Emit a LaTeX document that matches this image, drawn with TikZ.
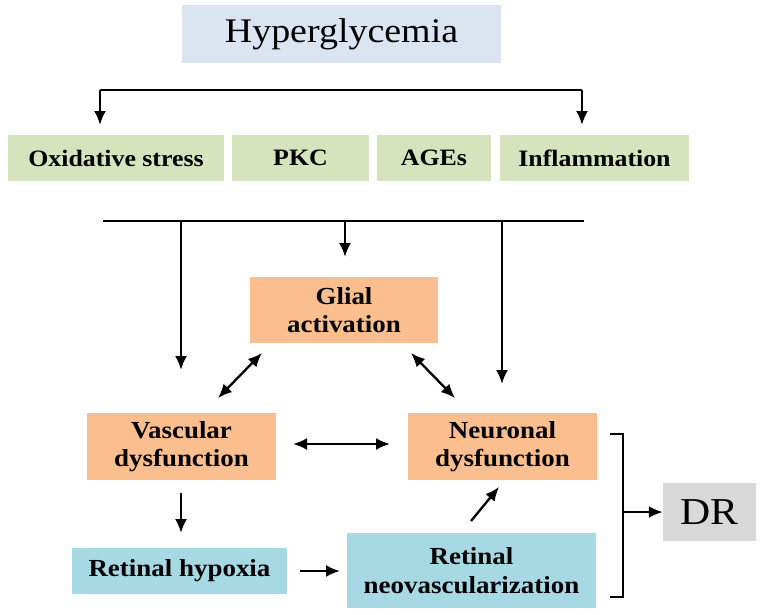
\documentclass[tikz,border=0pt]{standalone}
\usepackage{fontspec}
\setmainfont{Liberation Serif}[FakeStretch=1.1]
\usetikzlibrary{arrows.meta}
\definecolor{hypblue}{HTML}{DAE5F1}
\definecolor{lgreen}{HTML}{D6E3BD}
\definecolor{lorange}{HTML}{FBBF8F}
\definecolor{lcyan}{HTML}{A7D9E4}
\definecolor{lgray}{HTML}{D9D9D9}
\begin{document}
\begin{tikzpicture}[x=1pt,y=-1pt,
  box/.style={inner sep=0pt, align=center, font=\fontsize{23.5}{28}\selectfont\bfseries},
  lbl/.style={font=\fontsize{24.5}{28.5}\selectfont\bfseries},
  ln/.style={line width=2.3pt, line cap=butt},
  arr/.style={ln, -{Latex[length=14pt,width=12pt]}},
  darr/.style={ln, {Latex[length=14pt,width=12pt]}-{Latex[length=14pt,width=12pt]}}]
\useasboundingbox (0,0) rectangle (761,614);
\fill[white] (0,0) rectangle (761,614);
% nodes
\node[box, fill=hypblue, minimum width=319pt, minimum height=58pt, font=\fontsize{34.5}{40}\selectfont] (hyp) at (341.5,34) {Hyperglycemia};
\node[box, fill=lgreen, minimum width=216pt, minimum height=46pt] (ox) at (116,158) {Oxidative stress};
\node[box, fill=lgreen, minimum width=137pt, minimum height=46pt] (pkc) at (300.5,158) {PKC};
\node[box, fill=lgreen, minimum width=114pt, minimum height=46pt] (ages) at (434,158) {AGEs};
\node[box, fill=lgreen, minimum width=189pt, minimum height=46pt] (infl) at (594.5,158) {Inflammation};
\node[box, lbl, fill=lorange, minimum width=188pt, minimum height=66pt] (glial) at (344,310) {Glial\\activation};
\node[box, lbl, fill=lorange, minimum width=189pt, minimum height=67pt] (vasc) at (181.5,446.5) {Vascular\\dysfunction};
\node[box, lbl, fill=lorange, minimum width=189pt, minimum height=67pt] (neur) at (502.5,446.5) {Neuronal\\dysfunction};
\node[box, lbl, fill=lcyan, minimum width=215pt, minimum height=46pt] (hypox) at (179.5,571) {Retinal hypoxia};
\node[box, lbl, fill=lcyan, minimum width=249pt, minimum height=75pt] (neo) at (471.5,570.5) {Retinal\\neovascularization};
\node[box, fill=lgray, minimum width=93pt, minimum height=58pt, font=\fontsize{38}{42}\selectfont] (dr) at (709.5,512) {DR};
% top split
\coordinate (t1) at (100,90);
\coordinate (t2) at (582,90);
\coordinate (t1e) at (100,125);
\coordinate (t2e) at (582,125);
\draw[ln] (t1) -- (t2);
\draw[arr] (t1) -- (t1e);
\draw[arr] (t2) -- (t2e);
% lower collector line
\coordinate (b1) at (103,221);
\coordinate (b2) at (584,221);
\coordinate (bv) at (181,221);
\coordinate (bg) at (345,221);
\coordinate (bn) at (502,221);
\coordinate (bve) at (181,370);
\coordinate (bge) at (345,257);
\coordinate (bne) at (502,384);
\draw[ln] (b1) -- (b2);
\draw[arr] (bv) -- (bve);
\draw[arr] (bg) -- (bge);
\draw[arr] (bn) -- (bne);
% double arrows
\coordinate (gv1) at (262,353);
\coordinate (gv2) at (218,398);
\coordinate (gn1) at (411,353);
\coordinate (gn2) at (455,398);
\coordinate (vn1) at (293,444);
\coordinate (vn2) at (390,444);
\draw[darr] (gv1) -- (gv2);
\draw[darr] (gn1) -- (gn2);
\draw[darr] (vn1) -- (vn2);
% lower arrows
\coordinate (vd1) at (181,493);
\coordinate (vd2) at (181,533);
\coordinate (hn1) at (300,571);
\coordinate (hn2) at (340,571);
\coordinate (nn1) at (471,521);
\coordinate (nn2) at (499,487);
\draw[arr] (vd1) -- (vd2);
\draw[arr] (hn1) -- (hn2);
\draw[arr] (nn1) -- (nn2);
% bracket to DR
\coordinate (k1) at (610,434);
\coordinate (k2) at (623,434);
\coordinate (k3) at (623,597);
\coordinate (k4) at (610,597);
\coordinate (km) at (623,512);
\draw[ln, line join=miter] (k1) -- (k2) -- (k3) -- (k4);
\draw[arr] (km) -- (dr.west);
\end{tikzpicture}
\end{document}
